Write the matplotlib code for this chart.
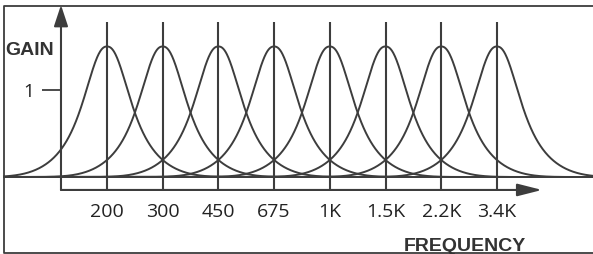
import numpy as np
import matplotlib
matplotlib.use('Agg')
import matplotlib.pyplot as plt
from matplotlib.patches import ArrowStyle

# ---------------------- data ----------------------
BANDS = ['200', '300', '450', '675', '1K', '1.5K', '2.2K', '3.4K']
PEAK_GAIN = 1.5          # peak height of each filter (gain "1" sits lower)
GAIN_TICKS = [1]

# filter response shape (offset in band spacings)
CORE_W = 0.504
CORE_N = 2.3
TAPER_G = 1.45
TAPER_P = 3.5

INK = '#3d3d3d'

def response(u):
    u = np.abs(u)
    return PEAK_GAIN / (1 + (u / CORE_W) ** CORE_N) * np.exp(-(u / TAPER_G) ** TAPER_P)

fig = plt.figure(figsize=(5.93, 2.54), dpi=100)
ax = fig.add_axes([0, 0, 1, 1])
ax.set_xlim(-1.921, 8.725)
ax.set_ylim(-0.885, 2.034)
ax.axis('off')

left, right, top, bottom = -1.849, 8.725, 1.966, -0.874
axis_x, axis_y = -0.826, -0.149

# frame
ax.plot([right, left, left, right], [top, top, bottom, bottom], color=INK, lw=1.3, clip_on=False)

# baseline
ax.hlines(0, left, right, color=INK, lw=1.4)

# filter curves
xs = np.linspace(left, right, 1500)
centers = np.arange(len(BANDS))
for c in centers:
    ax.plot(xs, response(xs - c), color=INK, lw=1.4)

# centre lines
ax.vlines(centers, axis_y, 1.78, color=INK, lw=1.5)

# axes with arrows
ax.annotate('', xy=(7.81, axis_y), xytext=(axis_x, axis_y),
            arrowprops=dict(arrowstyle=ArrowStyle('-|>', head_length=15, head_width=3.8),
                            mutation_scale=1, color=INK, lw=1.5, shrinkA=0, shrinkB=0))
ax.annotate('', xy=(axis_x, 1.977), xytext=(axis_x, axis_y),
            arrowprops=dict(arrowstyle=ArrowStyle('-|>', head_length=13, head_width=4.3),
                            mutation_scale=1, color=INK, lw=1.5, shrinkA=0, shrinkB=0))

# gain tick
for g in GAIN_TICKS:
    ax.hlines(g, -1.167, axis_x, color=INK, lw=1.3)
    ax.text(-1.311, g - 0.08, str(g), ha='right', va='baseline',
            fontsize=13.5, family='Open Sans', color='#222222')

# frequency labels
for c, lab in zip(centers, BANDS):
    ax.text(c, -0.46, lab, ha='center', va='baseline',
            fontsize=14, family='Open Sans', color='#222222')

ax.text(-1.831, 1.402, 'GAIN', ha='left', va='baseline', fontsize=14,
        family='Liberation Sans', weight='bold', color='#333333')
ax.text(6.418, -0.851, 'FREQUENCY', ha='center', va='baseline', fontsize=14,
        family='Liberation Sans', weight='bold', color='#333333')

fig.savefig('out.png', dpi=100)
